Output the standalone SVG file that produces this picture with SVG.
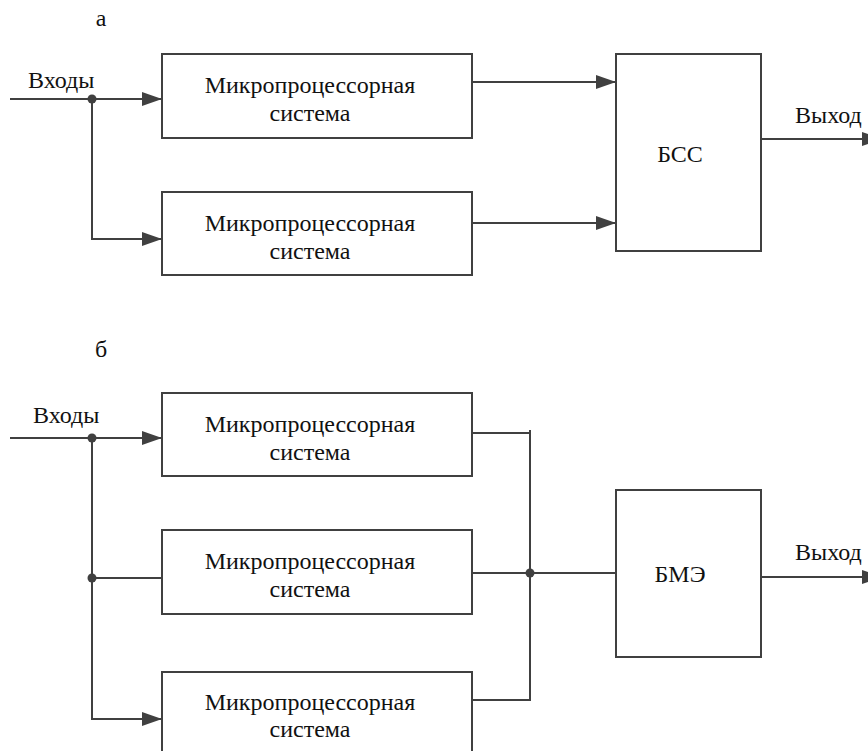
<svg xmlns="http://www.w3.org/2000/svg" width="868" height="751" viewBox="0 0 868 751">
<defs>
<marker id="arr" viewBox="0 0 20 14" refX="20" refY="7" markerWidth="20" markerHeight="14" markerUnits="userSpaceOnUse" orient="auto">
<path d="M0,0 L20,7 L0,14 Z" fill="#404040"/>
</marker>
</defs>
<style>
rect.box{fill:#fff;stroke:#404040;stroke-width:2}
.c{text-anchor:middle}
.ln{fill:none;stroke:#404040;stroke-width:2}
.dot{fill:#404040}
</style>
<rect width="868" height="751" fill="#fff"/>
<g font-family="Liberation Serif, DejaVu Serif, serif" font-size="24" fill="#111">
<text x="101" y="26" class="c">а</text>
<text x="101" y="357" class="c">б</text>
<g id="connectors">
<path class="ln" d="M10,99 H162" marker-end="url(#arr)"/>
<path class="ln" d="M92,99 V239 H162" marker-end="url(#arr)"/>
<path class="ln" d="M472,82 H616" marker-end="url(#arr)"/>
<path class="ln" d="M472,223 H616" marker-end="url(#arr)"/>
<path class="ln" d="M761,139 H882" marker-end="url(#arr)"/>
<circle class="dot" cx="92" cy="99" r="4.5"/>
<path class="ln" d="M10,438 H162" marker-end="url(#arr)"/>
<path class="ln" d="M92,438 V719 H162" marker-end="url(#arr)"/>
<path class="ln" d="M92,578 H162"/>
<path class="ln" d="M472,433 H530 M530,430 V700 H472"/>
<path class="ln" d="M472,573 H616"/>
<path class="ln" d="M761,577 H882" marker-end="url(#arr)"/>
<circle class="dot" cx="92" cy="438" r="4.5"/>
<circle class="dot" cx="92" cy="578" r="4.5"/>
<circle class="dot" cx="530" cy="573" r="4.5"/>
<text x="28" y="88">Входы</text>
<text x="33" y="423">Входы</text>
<text x="795" y="123">Выход</text>
<text x="795" y="560">Выход</text>
</g>
<g id="mps-a1"><rect class="box" x="162" y="54" width="310" height="84"/><text x="310" y="93" class="c">Микропроцессорная</text><text x="310" y="121" class="c">система</text></g>
<g id="mps-a2"><rect class="box" x="162" y="192" width="310" height="83"/><text x="310" y="231" class="c">Микропроцессорная</text><text x="310" y="259" class="c">система</text></g>
<g id="bss"><rect class="box" x="616" y="54" width="145" height="197"/><text x="680" y="162" class="c">БСС</text></g>
<g id="mps-b1"><rect class="box" x="162" y="393" width="310" height="83"/><text x="310" y="432" class="c">Микропроцессорная</text><text x="310" y="460" class="c">система</text></g>
<g id="mps-b2"><rect class="box" x="162" y="530" width="310" height="84"/><text x="310" y="569" class="c">Микропроцессорная</text><text x="310" y="597" class="c">система</text></g>
<g id="mps-b3"><rect class="box" x="162" y="672" width="310" height="83"/><text x="310" y="710" class="c">Микропроцессорная</text><text x="310" y="737" class="c">система</text></g>
<g id="bme"><rect class="box" x="616" y="490" width="145" height="167"/><text x="680" y="582" class="c">БМЭ</text></g>
</g>
</svg>
